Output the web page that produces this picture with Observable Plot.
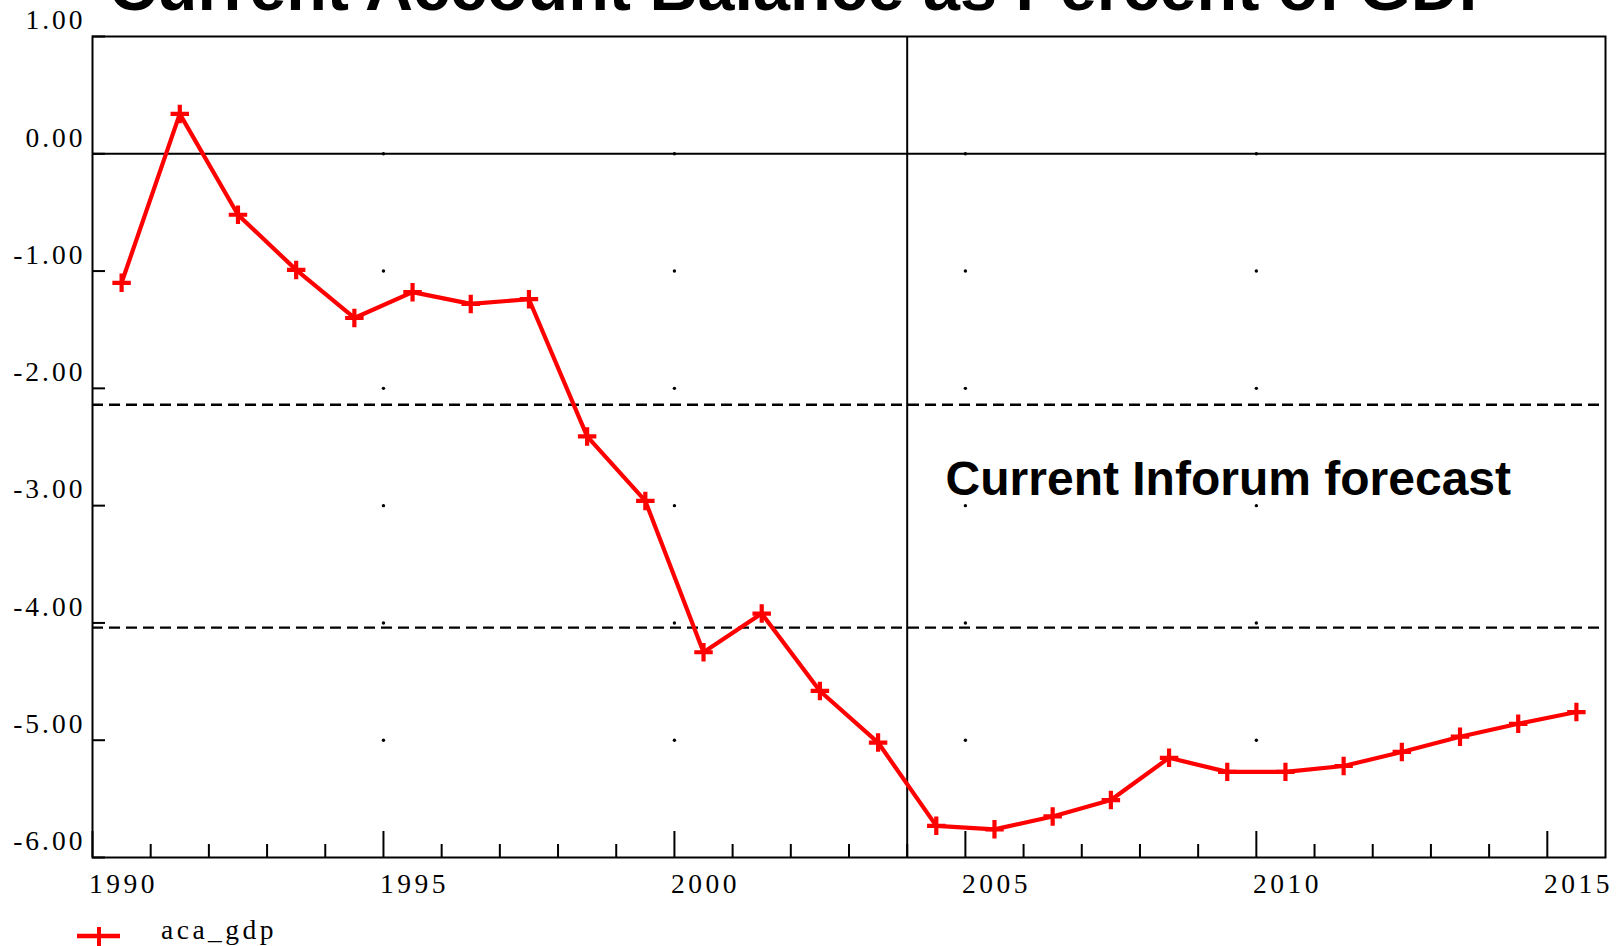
<!DOCTYPE html>
<html>
<head>
<meta charset="utf-8">
<script src="https://cdn.jsdelivr.net/npm/d3@7"></script>
<script src="https://cdn.jsdelivr.net/npm/@observablehq/plot@0.6"></script>
<style>
  body { margin: 0; background: #fff; }
  #wrap { position: relative; width: 1622px; height: 946px; overflow: hidden; background: #fff; }
  #chart { position: absolute; left: 0; top: 0; }
  #title { position: absolute; left: 0; width: 1612px; top: -46px; text-align: center;
           font: bold 66.5px/66.5px "Liberation Sans", Arial, sans-serif; color: #000; white-space: nowrap; }
  #legendMark { position: absolute; left: 70px; top: 922px; }
  #legendText { position: absolute; left: 161px; top: 916px; font: 27.5px/27.5px "Liberation Serif", "Times New Roman", serif;
                letter-spacing: 3.5px; color: #000; white-space: nowrap; }
  #chart g[aria-label="x-axis tick label"] text { letter-spacing: 3.5px; }
  #chart g[aria-label="y-axis tick label"] text { letter-spacing: 3px; }
</style>
</head>
<body>
<div id="wrap">
  <div id="chart"></div>
  <div id="title">Current Account Balance as Percent of GDP</div>
  <svg id="legendMark" width="60" height="28">
    <line x1="7" x2="50" y1="14" y2="14" stroke="#ff0000" stroke-width="4.5"></line>
    <line x1="29" x2="29" y1="5" y2="26" stroke="#ff0000" stroke-width="4"></line>
  </svg>
  <div id="legendText">aca_gdp</div>
</div>
<script>
// ---- data ----
const years = [1990, 1991, 1992, 1993, 1994, 1995, 1996, 1997, 1998, 1999, 2000, 2001, 2002,
               2003, 2004, 2005, 2006, 2007, 2008, 2009, 2010, 2011, 2012, 2013, 2014, 2015];
const acaGdp = [-1.10, 0.34, -0.52, -0.99, -1.40, -1.18, -1.28, -1.24, -2.41, -2.96, -4.25, -3.92, -4.58,
                -5.02, -5.73, -5.76, -5.65, -5.51, -5.15, -5.27, -5.27, -5.22, -5.10, -4.97, -4.86, -4.76];
const xLabelYears = [1990, 1995, 2000, 2005, 2010, 2015];
const xMajorTicks = [1990, 1995, 2000, 2005, 2010, 2015];
const xMinorTicks = [1991, 1992, 1993, 1994, 1996, 1997, 1998, 1999, 2001, 2002, 2003, 2004,
                     2006, 2007, 2008, 2009, 2011, 2012, 2013, 2014];
const yTicks = [1, 0, -1, -2, -3, -4, -5, -6];
const gridDotYears = [1995, 2000, 2005, 2010];
const gridDotValues = [0, -1, -2, -3, -4, -5];
const forecastBand = [-2.14, -4.04];
const forecastStart = [2004];
const annotation = [{year: 2004.66, value: -2.78, label: "Current Inforum forecast"}];

const series = years.map((y, i) => ({year: y, value: acaGdp[i]}));
const gridDots = gridDotYears.flatMap(x => gridDotValues.map(v => ({x, v})));

const serif = '"Liberation Serif", "Times New Roman", serif';
const sans = '"Liberation Sans", Arial, sans-serif';

const chart = Plot.plot({
  width: 1622,
  height: 900,
  marginTop: 36,
  marginBottom: 43,
  marginLeft: 92,
  marginRight: 17,
  style: {background: "#fff", color: "#000"},
  x: {domain: [1990, 2016], label: null},
  y: {domain: [-6, 1], label: null},
  marks: [
    Plot.dot(gridDots, {x: "x", y: "v", r: 1.7, fill: "#000", stroke: null}),
    Plot.ruleY([0], {stroke: "#000", strokeWidth: 2}),
    Plot.ruleY(forecastBand, {stroke: "#000", strokeWidth: 2.4, strokeDasharray: "11,6"}),
    Plot.ruleX(forecastStart, {stroke: "#000", strokeWidth: 2}),
    Plot.axisX(xMinorTicks, {tickSize: -13, strokeWidth: 2, tickFormat: () => ""}),
    Plot.axisX(xMajorTicks, {tickSize: -26, strokeWidth: 2, tickFormat: () => ""}),
    Plot.axisX(xLabelYears.map(d => d + 0.5), {
      tickSize: 0, tickPadding: 16, dx: 2,
      tickFormat: d => String(d - 0.5),
      fontSize: 27.5, fontFamily: serif, fill: "#000"
    }),
    Plot.axisY(yTicks, {tickSize: -13, strokeWidth: 2, tickFormat: () => ""}),
    Plot.axisY(yTicks, {
      tickSize: 0, tickPadding: 7, dy: -16,
      tickFormat: d => d.toFixed(2),
      fontSize: 27.5, fontFamily: serif, fill: "#000"
    }),
    Plot.frame({stroke: "#000", strokeWidth: 2}),
    Plot.line(series, {x: d => d.year + 0.5, y: "value", stroke: "#ff0000", strokeWidth: 4.2}),
    Plot.dot(series, {x: d => d.year + 0.5, y: "value", symbol: "plus", r: 6, stroke: "#ff0000", strokeWidth: 4.2}),
    Plot.text(annotation, {
      x: "year", y: "value", text: "label", textAnchor: "start",
      fontSize: 48, fontWeight: "bold", fontFamily: sans, fill: "#000"
    })
  ]
});
document.getElementById("chart").appendChild(chart);
</script>
</body>
</html>
